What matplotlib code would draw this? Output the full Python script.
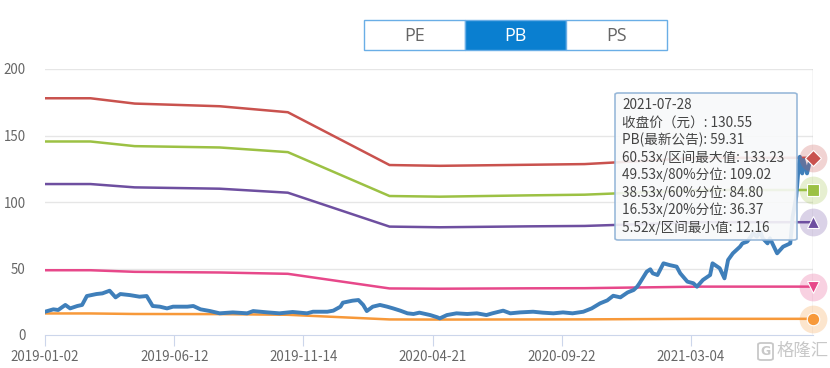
import matplotlib
matplotlib.use("Agg")
import matplotlib.pyplot as plt
from matplotlib.patches import Rectangle, FancyBboxPatch

plt.rcParams['font.family'] = ['Noto Sans CJK SC', 'DejaVu Sans']

# ---------------- data ----------------
tick_days = [0, 108, 216, 324, 432, 540]
tick_labels = ["2019-01-02", "2019-06-12", "2019-11-14", "2020-04-21", "2020-09-22", "2021-03-04"]
n_days = 642
y_ticks = [0, 50, 100, 150, 200]

price_days = [0, 7, 11, 17, 21, 27, 31, 35, 43, 48, 54, 59, 63, 71, 79, 85, 90, 96, 102, 107,
              119, 124, 130, 138, 146, 157, 169, 174, 186, 196, 207, 219, 224, 236, 241, 247,
              249, 257, 262, 266, 269, 274, 280, 286, 291, 297, 303, 308, 313, 322, 328, 330,
              336, 344, 353, 361, 369, 374, 383, 389, 397, 408, 416, 425, 433, 441, 450, 457,
              464, 470, 475, 481, 487, 492, 495, 497, 503, 506, 508, 512, 517, 522, 528, 531,
              537, 542, 545, 550, 556, 558, 564, 568, 571, 575, 581, 583, 587, 592, 595, 598,
              600, 604, 606, 612, 617, 623, 625, 628, 630, 631, 633, 634, 637, 639, 642]
price_vals = [17.5, 19.3, 18.8, 22.6, 20.0, 21.8, 22.6, 29.3, 30.8, 31.3, 33.3, 28.3, 30.8, 30.0,
              28.8, 29.3, 21.8, 21.3, 20.0, 21.3, 21.3, 21.8, 19.3, 18.0, 16.3, 17.0, 16.3, 18.0,
              17.0, 16.3, 17.3, 16.3, 17.5, 17.5, 18.3, 21.3, 24.3, 25.8, 26.3, 22.6, 18.0, 21.3,
              22.6, 21.3, 20.0, 18.3, 16.3, 15.8, 16.8, 15.0, 13.3, 12.5, 15.0, 16.3, 15.8, 16.3,
              15.0, 16.3, 18.3, 16.3, 17.0, 17.5, 16.8, 16.3, 17.0, 16.3, 17.5, 20.0, 23.8, 26.0,
              29.5, 28.3, 32.0, 33.8, 36.3, 38.9, 47.6, 49.4, 46.4, 45.1, 53.9, 52.6, 51.4, 46.4,
              40.1, 38.9, 36.3, 41.4, 45.1, 53.9, 50.2, 42.6, 56.4, 61.4, 66.4, 68.9, 70.2, 76.5,
              73.9, 77.7, 72.7, 68.9, 72.7, 61.4, 66.4, 68.9, 89.0, 104.0, 126.5, 134.0, 121.5,
              131.6, 121.5, 129.0, 130.55]

band_days = [0, 38, 75, 146, 203, 288, 330, 405, 451, 548, 642]
band_max = [178.0, 178.0, 174.0, 172.0, 167.5, 127.8, 127.2, 128.0, 128.5, 133.23, 133.23]
band_80 = [145.5, 145.5, 142.0, 141.0, 137.5, 104.5, 104.0, 105.0, 105.5, 109.02, 109.02]
band_60 = [113.5, 113.5, 111.0, 110.0, 107.0, 81.5, 81.0, 81.7, 82.0, 84.80, 84.80]
band_20 = [48.7, 48.7, 47.5, 47.0, 46.0, 35.0, 34.8, 35.1, 35.2, 36.37, 36.37]
band_min = [16.2, 16.2, 15.8, 15.7, 15.2, 11.7, 11.6, 11.7, 11.75, 12.16, 12.16]

band_colors = ["#c9524e", "#9cc144", "#6e4fa0", "#e7488a", "#f7993a"]
band_markers = ["D", "s", "^", "v", "o"]
price_color = "#3f7fba"

tooltip_lines = ["2021-07-28", "收盘价（元）: 130.55", "PB(最新公告): 59.31",
                 "60.53x/区间最大值: 133.23", "49.53x/80%分位: 109.02",
                 "38.53x/60%分位: 84.80", "16.53x/20%分位: 36.37",
                 "5.52x/区间最小值: 12.16"]
buttons = ["PE", "PB", "PS"]
watermark = "格隆汇"

# ---------------- figure ----------------
W, H = 830, 368
fig = plt.figure(figsize=(W / 100, H / 100), dpi=100)
ax = fig.add_axes([45 / W, (H - 335) / H, (813 - 45) / W, (335 - 69) / H])
ax.set_xlim(0, n_days)
ax.set_ylim(0, 200)

for yv in y_ticks[1:]:
    ax.axhline(yv, color="#e6e6e6", lw=1, zorder=0)

bands = [band_max, band_80, band_60, band_20, band_min]
for vals, c in zip(bands, band_colors):
    ax.plot(band_days, vals, color=c, lw=1.8, zorder=2, solid_joinstyle="round")

ax.plot(price_days, price_vals, color=price_color, lw=2.8, zorder=3, solid_joinstyle="round")

# axis pointer line
ax.axvline(n_days, color="#cccccc", lw=1, zorder=1)

for vals, c, m in zip(bands, band_colors, band_markers):
    ax.plot([n_days], [vals[-1]], marker="o", ms=20, color=c, alpha=0.25, mec="none",
            zorder=4, clip_on=False)
    ax.plot([n_days], [vals[-1]], marker=m, ms=8 if m != "o" else 9, color=c, mec="white",
            mew=0.8, zorder=5, clip_on=False)

for s in ["top", "right", "left"]:
    ax.spines[s].set_visible(False)
ax.spines["bottom"].set_color("#ccd6eb")
ax.set_xticks(tick_days)
ax.set_xticklabels(tick_labels)
ax.tick_params(axis="x", length=8, color="#ccd6eb", labelsize=9.6, labelcolor="#666666", pad=3)
ax.set_yticks(y_ticks)
ax.set_yticklabels([str(v) for v in y_ticks])
ax.tick_params(axis="y", length=0, labelsize=9.6, labelcolor="#666666", pad=14)

# ---------------- tooltip ----------------
box = FancyBboxPatch((615 / W, 1 - 240 / H), (797 - 615) / W, (240 - 93) / H,
                     boxstyle="round,pad=0,rounding_size=0.004", transform=fig.transFigure,
                     facecolor="#f8f9fa", alpha=0.9, edgecolor="#8fb2d6", lw=1.2, zorder=10)
fig.patches.append(box)
for i, t in enumerate(tooltip_lines):
    fig.text(622 / W, 1 - (105 + i * 17.5) / H, t, fontsize=9.8, color="#444444",
             va="center", ha="left", zorder=11)

# ---------------- buttons ----------------
bx0, bw, by0, bh = 364, 101, 20, 30
for i, b in enumerate(buttons):
    sel = (b == "PB")
    r = Rectangle(((bx0 + i * bw) / W, 1 - (by0 + bh) / H), bw / W, bh / H,
                  transform=fig.transFigure, facecolor="#0a7fd0" if sel else "white",
                  edgecolor="#6aaee6", lw=1, zorder=10)
    fig.patches.append(r)
    fig.text((bx0 + i * bw + bw / 2) / W, 1 - (by0 + bh / 2 + 1) / H, b, fontsize=13,
             color="white" if sel else "#666666", ha="center", va="center", zorder=11,
             family=["Open Sans", "DejaVu Sans"])

# ---------------- watermark ----------------
icon = FancyBboxPatch((758 / W, 1 - 360 / H), 15 / W, 17 / H,
                      boxstyle="round,pad=0,rounding_size=0.004", transform=fig.transFigure,
                      facecolor="none", edgecolor="#c8c8c8", lw=1.3, zorder=10)
fig.patches.append(icon)
fig.text(765.5 / W, 1 - 351.5 / H, "G", fontsize=9, color="#c8c8c8", ha="center",
         va="center", fontweight="bold", family=["DejaVu Sans"])
fig.text(777 / W, 1 - 351 / H, watermark, fontsize=12.5, color="#c8c8c8",
         ha="left", va="center", family=["Noto Sans CJK SC", "DejaVu Sans"])

fig.savefig("out.png", dpi=100)
